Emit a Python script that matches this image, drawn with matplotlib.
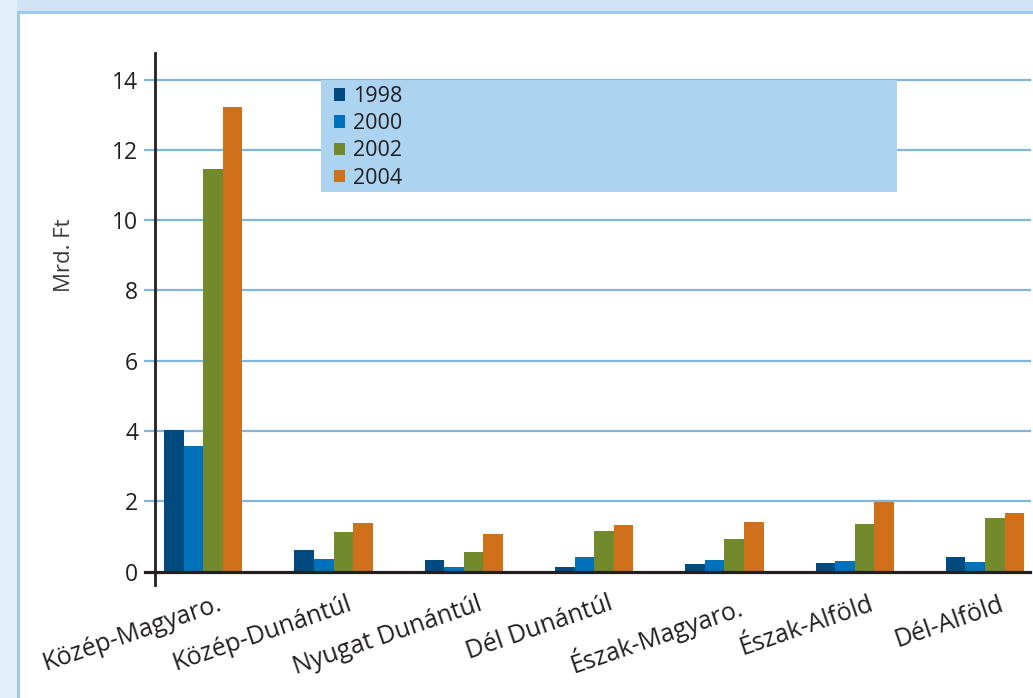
import matplotlib
matplotlib.use("Agg")
import matplotlib.pyplot as plt
import matplotlib.transforms as mtransforms
from matplotlib.patches import Rectangle
from matplotlib.lines import Line2D
import numpy as np

plt.rcParams['font.family'] = ['Open Sans', 'DejaVu Sans']

categories = ["Közép-Magyaro.", "Közép-Dunántúl", "Nyugat Dunántúl", "Dél Dunántúl",
              "Észak-Magyaro.", "Észak-Alföld", "Dél-Alföld"]
years = ["1998", "2000", "2002", "2004"]
v1998 = [4.02, 0.62, 0.32, 0.14, 0.22, 0.24, 0.42]
v2000 = [3.58, 0.36, 0.13, 0.40, 0.32, 0.29, 0.27]
v2002 = [11.45, 1.13, 0.55, 1.14, 0.92, 1.36, 1.53]
v2004 = [13.21, 1.38, 1.08, 1.32, 1.42, 1.98, 1.67]
yticks = [0, 2, 4, 6, 8, 10, 12, 14]
ylabel = "Mrd. Ft"

series = [v1998, v2000, v2002, v2004]
colors = ["#004a7f", "#0072bc", "#728a2c", "#d0701a"]
textc = "#231f20"
gridc = "#7fb6dd"

W, H = 1033, 698
fig = plt.figure(figsize=(W / 100, H / 100), dpi=100)
fig.patch.set_facecolor("white")


def px(x0, y0, x1, y1):
    return (x0 / W, 1 - y1 / H, (x1 - x0) / W, (y1 - y0) / H)


# page frame
for (x0, y0, x1, y1), c in [((0, 0, W, 12), "#d0e4f6"), ((0, 0, 17, H), "#e2eefa"),
                             ((17, 11, W, 14), "#9dcbee"), ((17, 11, 20, H), "#9dcbee")]:
    fx, fy, fw, fh = px(x0, y0, x1, y1)
    fig.add_artist(Rectangle((fx, fy), fw, fh, transform=fig.transFigure,
                             facecolor=c, edgecolor="none", zorder=0))

l, b, w, h = px(155, 53, 1030, 585)
ax = fig.add_axes([l, b, w, h])
ax.set_facecolor("none")

n = len(categories)
x = np.arange(n)
bw = 0.15
for i, (vals, col) in enumerate(zip(series, colors)):
    ax.bar(x + (i - 1.5) * bw, vals, width=bw, color=col, edgecolor="none",
           label=years[i], zorder=3)

ax.set_xlim(-0.37, n - 1 + 0.345)
ax.set_ylim(-0.384, 14.755)

for s in ["top", "right", "bottom"]:
    ax.spines[s].set_visible(False)
ax.spines["left"].set_linewidth(2.0)
ax.spines["left"].set_color(textc)
ax.spines["left"].set_zorder(5)

# gridlines & zero line extending left of the axis like tick marks
ext = mtransforms.blended_transform_factory(ax.transAxes, ax.transData)
for t in yticks:
    if t == 0:
        ax.add_line(Line2D([-10 / (1030 - 155), 1], [0, 0], transform=ext,
                           color=textc, lw=2.3, zorder=6, clip_on=False))
    else:
        ax.add_line(Line2D([-10 / (1030 - 155), 1], [t, t], transform=ext,
                           color=gridc, lw=1.6, zorder=1, clip_on=False))

ax.set_yticks(yticks)
ax.set_yticklabels([str(t) for t in yticks], fontsize=16.5, color=textc)
ax.tick_params(axis="y", length=0, pad=12)
ax.set_ylabel(ylabel, fontsize=16, color="#3a3a3a", labelpad=27, y=0.62)

ax.set_xticks(x)
ax.set_xticklabels([])
ax.tick_params(axis="x", length=0)
offset = mtransforms.ScaledTranslation(22 / 100, -20 / 100, fig.dpi_scale_trans)
xt = ax.transData + offset
for xi, cat in zip(x, categories):
    ax.text(xi, 0, cat, transform=xt, rotation=19, ha="right", va="top",
            fontsize=18, color=textc)

# legend box
fx, fy, fw, fh = px(321, 80, 897, 192)
fig.add_artist(Rectangle((fx, fy), fw, fh, transform=fig.transFigure,
                         facecolor="#acd3f0", edgecolor="none", zorder=4))
leg = fig.legend(loc="upper left", bbox_to_anchor=(334 / W, 1 - 86 / H),
                 ncol=1, fontsize=15.5, frameon=False,
                 borderaxespad=0, borderpad=0, labelspacing=0.29,
                 handlelength=0.51, handleheight=0.51, handletextpad=0.37)
leg.set_zorder(5)
for t in leg.get_texts():
    t.set_color(textc)

fig.savefig("out.png", dpi=100, facecolor=fig.get_facecolor())
